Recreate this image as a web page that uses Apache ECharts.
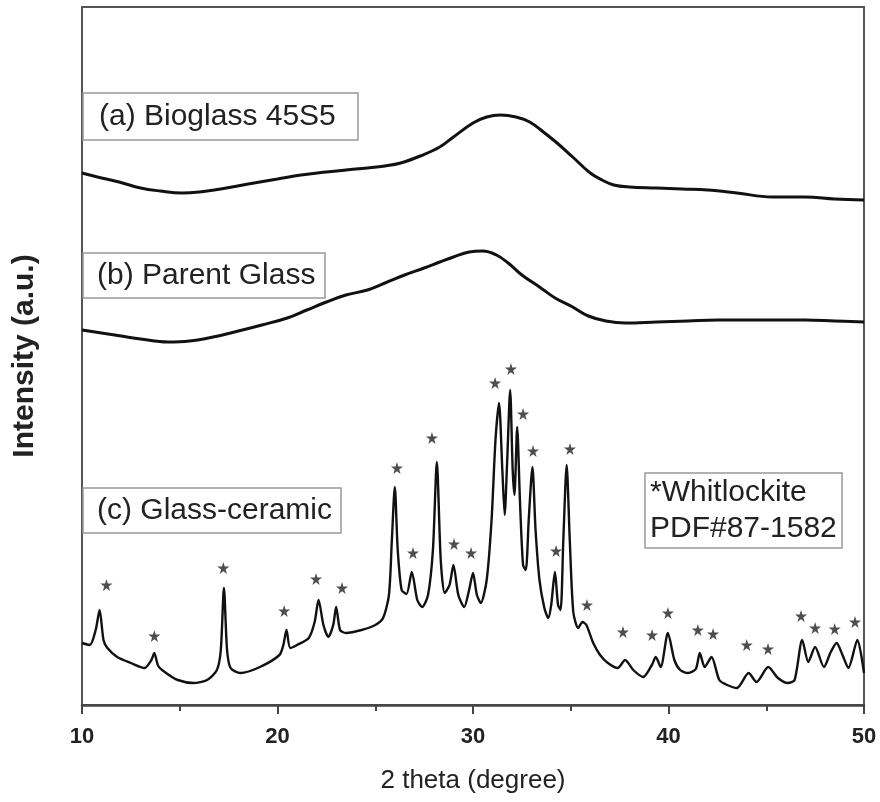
<!DOCTYPE html>
<html>
<head>
<meta charset="utf-8">
<script src="https://cdn.jsdelivr.net/npm/echarts@6/dist/echarts.min.js"></script>
<style>html,body{margin:0;padding:0;background:#fff;}#c{width:880px;height:802px;}</style>
</head>
<body>
<div id="c"></div>
<script>
// 2theta (degree), intensity (a.u., offset stacked)
const bioglass = [[10.0,532],[11.0,527],[11.9,523],[13.0,517],[14.0,514],[15.1,512],[16.0,513],[17.1,516],[18.5,521],[20.0,526],[21.2,530],[22.5,533],[23.5,535],[24.6,537],[25.5,539],[26.3,542],[27.3,549],[28.3,558],[29.0,568],[30.0,582],[30.7,588],[31.4,590],[32.2,588],[32.9,583],[33.6,573],[34.3,562],[35.1,548],[36.0,532],[36.6,525],[37.2,520],[38.0,518],[39.4,517],[40.7,516],[42.0,515],[43.5,512],[45.3,508],[47.0,508],[48.5,506],[50.0,505]];
const parentGlass = [[10.0,375],[11.0,372],[12.0,369],[13.0,366],[14.4,363],[15.5,364],[16.7,368],[18.0,374],[19.2,380],[20.5,387],[21.5,395],[22.5,403],[23.5,410],[24.6,415],[25.5,422],[26.5,430],[27.5,437],[28.3,443],[29.0,448],[29.8,453],[30.5,454],[31.2,450],[31.8,442],[32.5,430],[33.4,418],[34.2,407],[35.1,398],[35.9,389],[36.8,384],[37.8,382],[39.4,383],[41.0,384],[42.5,385],[44.0,385],[45.5,385],[47.0,385],[48.5,384],[50.0,383]];
const glassCeramic = [[10.0,62],[10.4,60],[10.7,75],[10.9,95],[11.1,65],[11.3,57],[11.8,48],[12.5,42],[13.2,37],[13.55,45],[13.7,52],[13.9,39],[14.3,32],[14.9,25],[15.7,22],[16.4,25],[16.9,35],[17.1,55],[17.26,117],[17.42,55],[17.6,37],[18.1,32],[19.1,38],[20.1,50],[20.3,60],[20.46,75],[20.65,57],[21.0,60],[21.6,67],[21.9,83],[22.1,105],[22.35,80],[22.6,68],[22.85,80],[23.0,98],[23.2,75],[23.5,72],[24.3,75],[25.0,80],[25.4,87],[25.7,110],[25.85,165],[26.0,218],[26.15,155],[26.35,115],[26.6,111],[26.87,133],[27.15,105],[27.4,98],[27.7,110],[27.95,155],[28.15,243],[28.35,145],[28.55,112],[28.8,120],[29.0,140],[29.25,110],[29.55,98],[29.8,115],[30.0,132],[30.2,110],[30.4,102],[30.7,125],[30.95,185],[31.15,265],[31.33,302],[31.5,235],[31.62,190],[31.75,245],[31.9,315],[32.03,235],[32.12,210],[32.26,278],[32.4,205],[32.56,140],[32.7,135],[32.85,185],[33.04,238],[33.2,175],[33.4,125],[33.65,97],[33.85,87],[34.0,100],[34.19,133],[34.35,100],[34.48,95],[34.62,165],[34.79,240],[34.95,165],[35.13,93],[35.38,77],[35.6,83],[35.8,80],[36.15,62],[36.5,50],[36.9,42],[37.4,37],[37.78,45],[38.2,35],[38.7,28],[39.15,40],[39.35,48],[39.6,38],[39.97,72],[40.3,45],[40.6,35],[41.0,32],[41.4,36],[41.6,52],[41.85,38],[42.2,48],[42.6,25],[43.0,20],[43.5,17],[44.1,32],[44.5,23],[45.1,38],[45.6,27],[46.1,22],[46.45,25],[46.84,65],[47.15,43],[47.5,58],[47.95,38],[48.3,53],[48.6,62],[48.9,50],[49.2,37],[49.66,65],[50.0,32]];
const whitlockiteStars = [[11.25,120],[13.7,69],[17.23,137],[20.34,94],[21.97,126],[23.3,117],[26.11,237],[26.93,152],[27.9,267],[29.03,161],[29.9,152],[31.13,322],[31.94,336],[32.56,291],[33.07,254],[34.25,154],[34.96,256],[35.83,100],[37.67,73],[39.16,70],[39.97,92],[41.5,75],[42.28,71],[44.0,60],[45.09,56],[46.78,89],[47.5,77],[48.5,76],[49.54,83]];
const labelA = '(a) Bioglass 45S5';
const labelB = '(b) Parent Glass';
const labelC = '(c) Glass-ceramic';
const labelRef = ['*Whitlockite', 'PDF#87-1582'];
const xName = '2 theta (degree)';
const yName = 'Intensity (a.u.)';

const FONT = '"Liberation Sans", Arial, sans-serif';
const chart = echarts.init(document.getElementById('c'), null, {renderer: 'canvas'});
const starPath = 'path://M50,0 L61,35 L98,35 L68,57 L79,91 L50,70 L21,91 L32,57 L2,35 L39,35 Z';

function box(x, y, w, h) {
  return {type: 'rect', z: 100, shape: {x: x, y: y, width: w, height: h},
    style: {fill: '#fff', stroke: '#999', lineWidth: 1.5}};
}
function txt(x, y, t) {
  return {type: 'text', z: 101, x: x, y: y,
    style: {text: t, font: '30px ' + FONT, fill: '#222', verticalAlign: 'middle', lineHeight: 36}};
}

chart.setOption({
  animation: false,
  backgroundColor: '#fff',
  grid: {left: 82, right: 16, top: 7, bottom: 97, show: true, borderColor: '#555', borderWidth: 2},
  xAxis: {
    type: 'value', min: 10, max: 50, interval: 10,
    name: xName, nameLocation: 'middle', nameGap: 63,
    nameTextStyle: {fontFamily: FONT, fontSize: 26, color: '#222'},
    axisLine: {show: true, onZero: false, lineStyle: {color: '#444', width: 2.5}},
    axisTick: {show: true, inside: false, length: 9, lineStyle: {color: '#444', width: 2}},
    minorTick: {show: true, splitNumber: 2, length: 6, lineStyle: {color: '#444', width: 2}},
    axisLabel: {fontFamily: FONT, fontSize: 22, fontWeight: 'bold', color: '#222', margin: 21},
    splitLine: {show: false}
  },
  yAxis: {
    type: 'value', min: 0, max: 698,
    name: yName, nameLocation: 'middle', nameGap: 42,
    nameTextStyle: {fontFamily: FONT, fontSize: 30, fontWeight: 'bold', color: '#222'},
    axisLine: {show: true, lineStyle: {color: '#555', width: 2}},
    axisTick: {show: false}, axisLabel: {show: false}, splitLine: {show: false}
  },
  series: [
    {type: 'line', data: bioglass, smooth: 0.4, symbol: 'none', lineStyle: {color: '#111', width: 3}},
    {type: 'line', data: parentGlass, smooth: 0.4, symbol: 'none', lineStyle: {color: '#111', width: 3}},
    {type: 'line', data: glassCeramic, smooth: 0.25, symbol: 'none', lineStyle: {color: '#111', width: 2.4}},
    {type: 'scatter', data: whitlockiteStars, symbol: starPath, symbolSize: 12, itemStyle: {color: '#222'}}
  ],
  graphic: [
    box(83, 93, 275, 47), txt(99, 117, labelA),
    box(83, 253, 242, 45), txt(97, 276, labelB),
    box(83, 488, 258, 45), txt(97, 511, labelC),
    box(645, 473, 197, 75), txt(650, 511, labelRef.join('\n'))
  ]
});
</script>
</body>
</html>
